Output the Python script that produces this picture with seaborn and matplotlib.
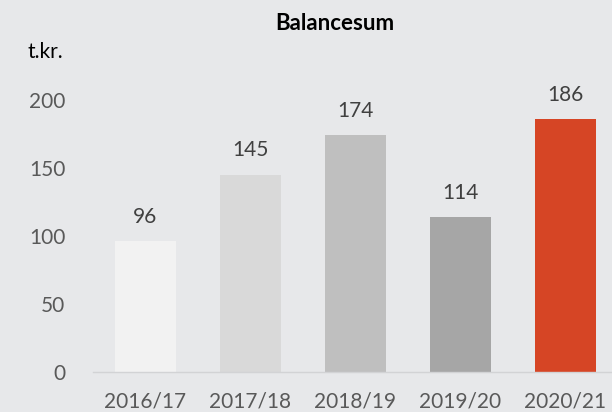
import matplotlib
matplotlib.use("Agg")
import matplotlib.pyplot as plt
import seaborn as sns
import pandas as pd

# Data
aar = ["2016/17", "2017/18", "2018/19", "2019/20", "2020/21"]
balancesum = [96, 145, 174, 114, 186]
farver = ["#F2F2F2", "#D9D9D9", "#BFBFBF", "#A6A6A6", "#D64525"]

baggrund = "#E7E8EA"
tekst_farve = "#595959"

sns.set_theme(style="white")
plt.rcParams["font.family"] = ["Lato", "DejaVu Sans"]

data = pd.DataFrame({"aar": aar, "vaerdi": balancesum})

fig = plt.figure(figsize=(6.12, 4.12), dpi=100, facecolor=baggrund)
ax = fig.add_axes([93 / 612, 40 / 412, 519 / 612, 332 / 412])
ax.set_facecolor(baggrund)

sns.barplot(data=data, x="aar", y="vaerdi", hue="aar", palette=farver,
            width=0.58, legend=False, ax=ax, saturation=1, linewidth=0)

# Vaerdier over soejlerne
for i, v in enumerate(balancesum):
    ax.annotate(str(v), (i, v), xytext=(0, 17.5), textcoords="offset points",
                ha="center", va="center", fontsize=15, color="#404040")

ax.set_ylim(0, 244)
ax.set_xlim(-0.5, 4.443)
ax.set_yticks([0, 50, 100, 150, 200])
ax.set_xlabel("")
ax.set_ylabel("")
ax.tick_params(axis="both", length=0, labelsize=15, colors=tekst_farve)
ax.tick_params(axis="y", pad=20)
ax.tick_params(axis="x", pad=14)

for s in ["top", "right", "left"]:
    ax.spines[s].set_visible(False)
ax.spines["bottom"].set_color("#D2D3D5")
ax.spines["bottom"].set_linewidth(1)

fig.text(334.5 / 612, 1 - 23 / 412, "Balancesum", ha="center", va="center",
         fontsize=16, fontweight="bold", color="black")
fig.text(27 / 612, 1 - 52 / 412, "t.kr.", ha="left", va="center",
         fontsize=15, color="black")

fig.savefig("out.png", dpi=100, facecolor=baggrund)
